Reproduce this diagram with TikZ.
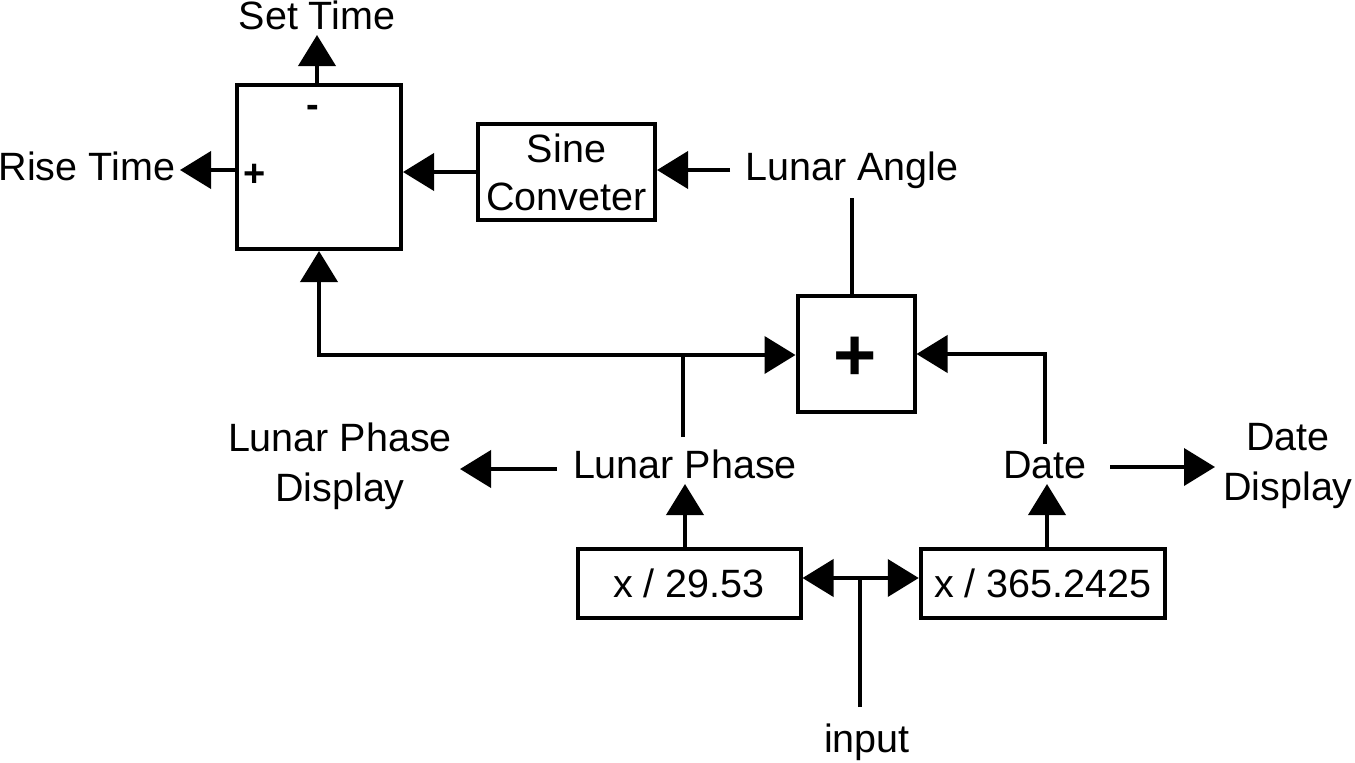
\documentclass[tikz,border=0pt]{standalone}
\usepackage{fontspec}
\setmainfont{Liberation Sans}
\usetikzlibrary{arrows.meta}
\begin{document}
\begin{tikzpicture}[x=1pt,y=-1pt,
  line width=4pt,
  every node/.style={font=\fontsize{39.5}{48}\selectfont},
  blk/.style={draw,rectangle,inner sep=0pt,minimum width=#1},
  lbl/.style={inner sep=0pt},
  arr/.style={-{Triangle[length=31pt,width=37pt]}},
  darr/.style={{Triangle[length=31pt,width=37pt]}-{Triangle[length=31pt,width=37pt]}}
]
\useasboundingbox (0,0) rectangle (1355,763);

% blocks
\node[blk=164pt,minimum height=164pt] (big) at (319,167) {};
\node[blk=177pt,minimum height=96pt,align=center] (sine) at (566.5,172) {Sine\\Conveter};
\node[blk=117pt,minimum height=116pt] (plus) at (856,354) {};
\node[blk=223pt,minimum height=69pt] (div1) at (689,583) {x / 29.53};
\node[blk=244.5pt,minimum height=69pt] (div2) at (1043,583) {x / 365.2425};

% signs
\node[lbl,font=\fontsize{38}{47}\selectfont\bfseries] (minus) at (313,111) {-};
\node[lbl,font=\fontsize{38}{47}\selectfont\bfseries] (psmall) at (255,175) {+};
\node[lbl,font=\fontsize{74}{80}\selectfont\bfseries] (pbig) at (855,359) {+};

% labels
\node[lbl,anchor=base] (settime) at (317,29) {Set Time};
\node[lbl,anchor=base east] (risetime) at (177,180) {Rise Time};
\node[lbl,anchor=base] (langle) at (852,180) {Lunar Angle};
\node[lbl,anchor=base] (lphase) at (685,478) {Lunar Phase};
\node[lbl,anchor=base] (date) at (1045,478) {Date};
\node[lbl,align=center,font=\fontsize{39.5}{50}\selectfont] (lpdisp) at (340,466) {Lunar Phase\\Display};
\node[lbl,align=center,font=\fontsize{39.5}{50}\selectfont] (ddisp) at (1288,466) {Date\\Display};
\node[lbl,anchor=base] (input) at (867,752) {input};

% free-end coordinates
\coordinate (setTip) at (317,35);
\coordinate (riseTip) at (180,170);
\coordinate (laStart) at (730,170);
\coordinate (laBot) at (852,198);
\coordinate (jn) at (683,355);
\coordinate (lpTop) at (683,437);
\coordinate (dTop) at (1045,444);
\coordinate (lpdStart) at (557,469);
\coordinate (lpdTip) at (460,469);
\coordinate (ddStart) at (1110,467);
\coordinate (ddTip) at (1215,467);
\coordinate (lpBot) at (685,484);
\coordinate (dBot) at (1047,484);
\coordinate (inJ) at (860,578);
\coordinate (inBot) at (860,707);

% connectors
\draw[arr] (setTip |- big.north) -- (setTip);
\draw[arr] (big.west |- riseTip) -- (riseTip);
\draw[arr] (sine.west) -- (sine.west -| big.east);
\draw[arr] (laStart) -- (laStart -| sine.east);
\draw (laBot |- plus.north) -- (laBot);
\draw[arr] (lpTop) -- (jn) -- (jn -| plus.west);
\draw[arr] (jn) -| (big.south);
\draw[arr] (dTop) |- (plus.east);
\draw[arr] (lpdStart) -- (lpdTip);
\draw[arr] (ddStart) -- (ddTip);
\draw[arr] (lpBot |- div1.north) -- (lpBot);
\draw[arr] (dBot |- div2.north) -- (dBot);
\draw[darr] (div1.east |- inJ) -- (div2.west |- inJ);
\draw (inBot) -- (inJ);
\end{tikzpicture}
\end{document}
